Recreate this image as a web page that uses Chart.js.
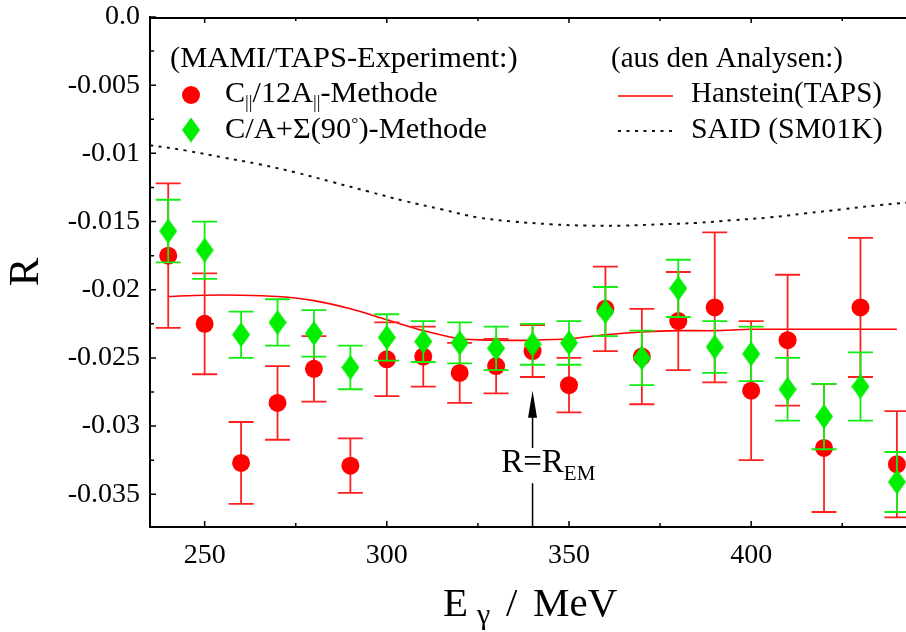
<!DOCTYPE html>
<html>
<head>
<meta charset="utf-8">
<script src="https://cdn.jsdelivr.net/npm/chart.js@4.4.1/dist/chart.umd.min.js"></script>
<style>
  html, body { margin: 0; padding: 0; background: #fff; }
  #wrap { width: 906px; height: 632px; }
</style>
</head>
<body>
<div id="wrap"><canvas id="chart" width="906" height="632"></canvas></div>
<script>
// photon energies (MeV) of the measured points
const energies = [240, 250, 260, 270, 280, 290, 300, 310, 320, 330, 340,
                  350, 360, 370, 380, 390, 400, 410, 420, 430, 440];

// R from C_par / 12 A_par
const ratioPar = [-0.0175, -0.0225, -0.0327, -0.0283, -0.0258, -0.0329, -0.0251, -0.0249, -0.0261, -0.0256, -0.0245,
                  -0.0270, -0.0214, -0.0249, -0.0223, -0.0213, -0.0274, -0.0237, -0.0316, -0.0213, -0.0328];
const ratioParErr = [0.0053, 0.0037, 0.0030, 0.0027, 0.0024, 0.0020, 0.0027, 0.0022, 0.0022, 0.0020, 0.0019,
                     0.0020, 0.0031, 0.0035, 0.0036, 0.0055, 0.0051, 0.0048, 0.0047, 0.0051, 0.0039];

// R from C/A + Sigma(90 deg)
const ratioSig = [-0.0157, -0.0171, -0.0233, -0.0224, -0.0232, -0.0257, -0.0235, -0.0238, -0.0239, -0.0243, -0.0240,
                  -0.0239, -0.0216, -0.0250, -0.0199, -0.0242, -0.0247, -0.0273, -0.0293, -0.0271, -0.0341];
const ratioSigErr = [0.0023, 0.0021, 0.0017, 0.0017, 0.0017, 0.0016, 0.0017, 0.0015, 0.0015, 0.0016, 0.0015,
                     0.0016, 0.0018, 0.0020, 0.0021, 0.0019, 0.0020, 0.0023, 0.0024, 0.0025, 0.0022];

// analyses
const hansteinE = [240, 250, 260, 270, 280, 290, 300, 310, 320, 330, 340,
                   350, 360, 370, 380, 390, 400, 410, 420, 430, 440];
const hanstein = [-0.0205, -0.0204, -0.0204, -0.0205, -0.0208, -0.0214, -0.0222, -0.0230, -0.0236, -0.0237, -0.0237,
                  -0.0236, -0.0233, -0.0231, -0.0230, -0.0230, -0.0229, -0.0229, -0.0229, -0.0229, -0.0229];

const saidE = [235, 245, 255, 265, 275, 285, 295, 305, 315, 325, 335,
               345, 355, 365, 375, 385, 395, 405, 415, 425, 435, 443];
const said = [-0.0094, -0.0098, -0.0103, -0.0108, -0.0114, -0.0121, -0.0128, -0.0135, -0.0141, -0.0147, -0.0150,
              -0.0152, -0.0153, -0.0153, -0.0152, -0.0151, -0.0149, -0.0147, -0.0144, -0.0141, -0.0138, -0.0136];

const xRange = [235, 442.5];
const yRange = [-0.0374, 0];
const xStep = 25, yStep = 0.0025;

const SERIF = "'Liberation Serif', 'Times New Roman', serif";
const RED = '#ff0000';
const GREEN = '#00ee00';

function makeDiamond(w, h, color) {
  const c = document.createElement('canvas');
  c.width = w; c.height = h;
  const g = c.getContext('2d');
  g.fillStyle = color;
  g.beginPath();
  g.moveTo(w / 2, 0); g.lineTo(w, h / 2); g.lineTo(w / 2, h); g.lineTo(0, h / 2);
  g.closePath();
  g.fill();
  return c;
}
const diamond = makeDiamond(18, 25, GREEN);

const pts = (xs, ys) => xs.map((x, i) => ({ x, y: ys[i] }));

// draw text pieces with their own size / baseline shift, left to right,
// optionally widened by sx
function richText(ctx, parts, x, y, sx = 1) {
  let cx = x;
  parts.forEach(p => {
    ctx.font = `${p.size}px ${SERIF}`;
    ctx.save();
    ctx.translate(cx, y + (p.dy || 0));
    ctx.scale(sx, 1);
    ctx.fillText(p.text, 0, 0);
    ctx.restore();
    cx += ctx.measureText(p.text).width * sx;
  });
  return cx - x;
}

// error bars drawn just before the dataset's own markers
const errorBars = {
  id: 'errorBars',
  beforeDatasetDraw(chart, args) {
    const ds = chart.data.datasets[args.index];
    if (!ds.errors) return;
    const { ctx, scales: { x, y } } = chart;
    ctx.save();
    ctx.strokeStyle = ds.errorColor;
    ctx.lineWidth = 1.8;
    ds.data.forEach((p, i) => {
      const px = x.getPixelForValue(p.x);
      const hi = y.getPixelForValue(p.y + ds.errors[i]);
      const lo = y.getPixelForValue(p.y - ds.errors[i]);
      ctx.beginPath();
      ctx.moveTo(px, hi); ctx.lineTo(px, lo);
      ctx.moveTo(px - 12.5, hi); ctx.lineTo(px + 12.5, hi);
      ctx.moveTo(px - 12.5, lo); ctx.lineTo(px + 12.5, lo);
      ctx.stroke();
    });
    ctx.restore();
  }
};

// top border and inward tick marks
const frame = {
  id: 'frame',
  afterDatasetsDraw(chart) {
    const { ctx, chartArea: a, scales: { x, y } } = chart;
    ctx.save();
    ctx.strokeStyle = '#000';
    ctx.lineWidth = 2;
    ctx.beginPath();
    ctx.moveTo(a.left, a.top + 1); ctx.lineTo(a.right, a.top + 1);
    ctx.stroke();
    ctx.lineWidth = 1.5;
    ctx.beginPath();
    x.ticks.forEach(t => {
      const px = x.getPixelForValue(t.value);
      const len = t.value % 50 === 0 ? 6 : 4;
      ctx.moveTo(px, a.bottom); ctx.lineTo(px, a.bottom - len);
      ctx.moveTo(px, a.top); ctx.lineTo(px, a.top + len);
    });
    y.ticks.forEach(t => {
      const py = y.getPixelForValue(t.value);
      const len = Math.round(t.value / yStep) % 2 === 0 ? 6 : 4;
      ctx.moveTo(a.left, py); ctx.lineTo(a.left + len, py);
    });
    ctx.stroke();
    ctx.restore();
  }
};

// axis titles, legend block and the R = R_EM marker
const decorations = {
  id: 'decorations',
  afterDraw(chart) {
    const { ctx, chartArea: a, scales: { x, y } } = chart;
    ctx.save();
    ctx.fillStyle = '#000';
    ctx.textBaseline = 'alphabetic';
    ctx.textAlign = 'left';

    // x title, E_gamma / MeV
    const x0 = (a.left + a.right) / 2 - 85;
    ctx.font = `41px ${SERIF}`;
    ctx.fillText('E', x0, 616);
    ctx.fillText('/', x0 + 63, 616);
    ctx.fillText('MeV', x0 + 90, 616);
    ctx.font = `30px ${SERIF}`;
    ctx.fillText('\u03b3', x0 + 34, 624);

    // y title
    ctx.save();
    ctx.translate(27, (a.top + a.bottom) / 2);
    ctx.rotate(-Math.PI / 2);
    ctx.font = `43px ${SERIF}`;
    ctx.textAlign = 'center';
    ctx.textBaseline = 'middle';
    ctx.fillText('R', 0, 0);
    ctx.restore();

    // legend
    const ds = chart.data.datasets;
    richText(ctx, [{ text: '(MAMI/TAPS-Experiment:)', size: 29 }], 170, 67, 1.05);
    richText(ctx, [{ text: '(aus den Analysen:)', size: 29 }], 611, 67);

    ctx.fillStyle = ds[0].backgroundColor;
    ctx.beginPath();
    ctx.arc(191, 95, ds[0].pointRadius, 0, Math.PI * 2);
    ctx.fill();
    ctx.drawImage(diamond, 191 - diamond.width / 2, 130 - diamond.height / 2);

    ctx.fillStyle = '#000';
    richText(ctx, [
      { text: 'C', size: 29 },
      { text: '||', size: 18, dy: 6 },
      { text: '/12A', size: 29 },
      { text: '||', size: 18, dy: 6 },
      { text: '-Methode', size: 29 }
    ], 225, 102, 1.04);
    richText(ctx, [
      { text: 'C/A+\u03a3(90', size: 29 },
      { text: '\u00b0', size: 17, dy: -9 },
      { text: ')-Methode', size: 29 }
    ], 225, 138, 1.05);

    ctx.strokeStyle = ds[2].borderColor;
    ctx.lineWidth = ds[2].borderWidth;
    ctx.beginPath(); ctx.moveTo(618, 96); ctx.lineTo(673, 96); ctx.stroke();
    ctx.strokeStyle = ds[3].borderColor;
    ctx.lineWidth = ds[3].borderWidth;
    ctx.setLineDash(ds[3].borderDash);
    ctx.beginPath(); ctx.moveTo(618, 131); ctx.lineTo(673, 131); ctx.stroke();
    ctx.setLineDash([]);

    richText(ctx, [{ text: ds[2].label, size: 29 }], 691, 102);
    richText(ctx, [{ text: ds[3].label, size: 29 }], 691, 138, 1.03);

    // R = R_EM marker at 340 MeV
    const ax = x.getPixelForValue(340);
    const tip = y.getPixelForValue(-0.0274);
    const tail = y.getPixelForValue(-0.0316);
    const below = y.getPixelForValue(-0.0342);
    ctx.strokeStyle = '#000';
    ctx.lineWidth = 1.5;
    ctx.beginPath();
    ctx.moveTo(ax, tail); ctx.lineTo(ax, tip + 20);
    ctx.moveTo(ax, below); ctx.lineTo(ax, a.bottom);
    ctx.stroke();
    ctx.beginPath();
    ctx.moveTo(ax, tip); ctx.lineTo(ax + 4.5, tip + 27); ctx.lineTo(ax - 4.5, tip + 27);
    ctx.closePath();
    ctx.fill();
    ctx.font = `33px ${SERIF}`;
    const rw = ctx.measureText('R').width;
    const ew = ctx.measureText('=').width;
    richText(ctx, [
      { text: 'R=R', size: 33 },
      { text: 'EM', size: 21, dy: 8 }
    ], ax - rw - ew / 2, y.getPixelForValue(-0.0334));

    ctx.restore();
  }
};

new Chart(document.getElementById('chart'), {
  type: 'scatter',
  data: {
    datasets: [
      {
        label: 'C||/12A||-Methode',
        data: pts(energies, ratioPar),
        errors: ratioParErr,
        errorColor: '#ff2020',
        pointStyle: 'circle',
        pointRadius: 9,
        backgroundColor: RED,
        borderWidth: 0,
        order: 1
      },
      {
        label: 'C/A+\u03a3(90\u00b0)-Methode',
        data: pts(energies, ratioSig),
        errors: ratioSigErr,
        errorColor: '#11ee11',
        pointStyle: diamond,
        pointRadius: 12,
        backgroundColor: GREEN,
        borderWidth: 0,
        order: 0
      },
      {
        label: 'Hanstein(TAPS)',
        data: pts(hansteinE, hanstein),
        showLine: true,
        borderColor: RED,
        borderWidth: 1.6,
        pointRadius: 0,
        tension: 0.3,
        order: 2
      },
      {
        label: 'SAID (SM01K)',
        data: pts(saidE, said),
        showLine: true,
        borderColor: '#111',
        borderWidth: 2,
        borderDash: [3, 5.5],
        pointRadius: 0,
        tension: 0.4,
        order: 3
      }
    ]
  },
  options: {
    responsive: false,
    animation: false,
    events: [],
    layout: { autoPadding: false, padding: { top: 17, right: 0, left: 0, bottom: 0 } },
    plugins: {
      legend: { display: false },
      tooltip: { enabled: false }
    },
    scales: {
      x: {
        type: 'linear',
        min: xRange[0],
        max: xRange[1],
        afterFit: s => { s.height = 105; s.paddingLeft = 0; s.paddingRight = 0; },
        grid: { display: false, drawTicks: false },
        border: { display: true, color: '#000', width: 2 },
        ticks: {
          stepSize: xStep,
          includeBounds: false,
          autoSkip: false,
          maxRotation: 0,
          padding: 12,
          color: '#000',
          font: { family: SERIF, size: 28 },
          callback: v => (v % 50 === 0 ? String(v) : '')
        }
      },
      y: {
        type: 'linear',
        min: yRange[0],
        max: yRange[1],
        afterFit: s => { s.width = 150; s.paddingTop = 0; s.paddingBottom = 0; },
        grid: { display: false, drawTicks: false },
        border: { display: true, color: '#000', width: 2 },
        ticks: {
          stepSize: yStep,
          includeBounds: false,
          autoSkip: false,
          padding: 10,
          color: '#000',
          font: { family: SERIF, size: 28 },
          callback: v => {
            const k = Math.round(v / yStep);
            if (k % 2 !== 0) return '';
            return k === 0 ? '0.0' : String(+(k * yStep).toFixed(4));
          }
        }
      }
    }
  },
  plugins: [errorBars, frame, decorations]
});
</script>
</body>
</html>
